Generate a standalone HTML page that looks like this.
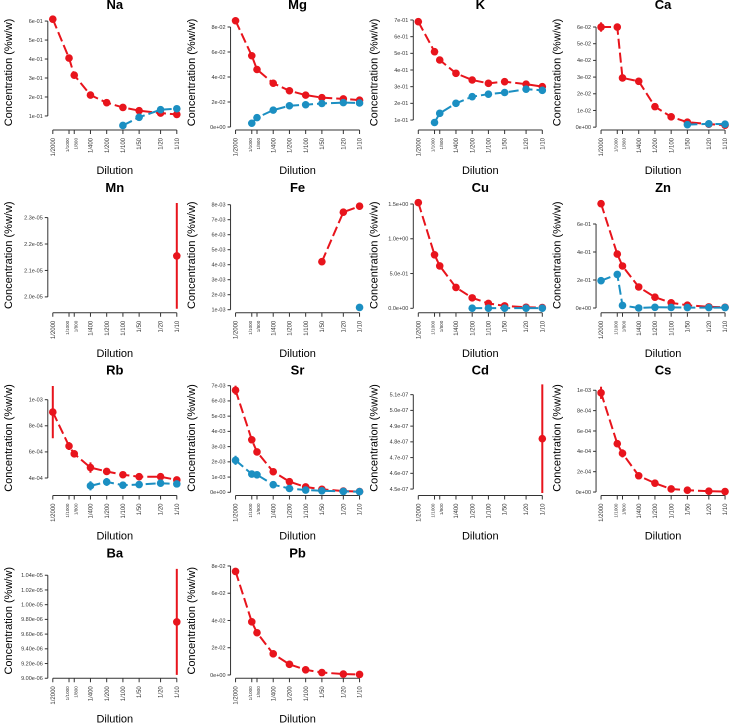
<!DOCTYPE html>
<html><head><meta charset="utf-8">
<style>
html,body{margin:0;padding:0;background:#fff;}
svg{display:block;font-family:"Liberation Sans",Arial,sans-serif;}
</style></head>
<body>
<svg id="chart" width="731" height="723" viewBox="0 0 731 723" xmlns="http://www.w3.org/2000/svg"></svg>
<script>
// ---- data ----
const dilutionLabels = ["1/2000","1/1000","1/800","1/400","1/200","1/100","1/50","1/20","1/10"];
const dilutionFactors = [2000,1000,800,400,200,100,50,20,10];
const elements = ["Na","Mg","K","Ca","Mn","Fe","Cu","Zn","Rb","Sr","Cd","Cs","Ba","Pb"];

const naRed = [0.61,0.405,0.315,0.21,0.17,0.145,0.128,0.115,0.108];
const naBlue = [null,null,null,null,null,0.05,0.093,0.133,0.138];
const mgRed = [0.085,0.057,0.046,0.035,0.029,0.0255,0.0235,0.0225,0.0215];
const mgBlue = [null,0.003,0.0075,0.0135,0.017,0.0178,0.0188,0.0195,0.0192];
const kRed = [0.69,0.51,0.46,0.38,0.34,0.32,0.33,0.315,0.30];
const kBlue = [null,0.085,0.14,0.20,0.24,0.255,0.265,0.285,0.278];
const caRed = [0.060,0.060,0.0295,0.0275,0.0123,0.0062,0.003,0.0018,0.0012];
const caRedErr = [0.0028,0,0,0,0,0,0,0,0];
const caBlue = [null,null,null,null,null,null,0.0015,0.002,0.0018];
const mnRed = [null,null,null,null,null,null,null,null,2.155e-5];
const mnRedErr = [0,0,0,0,0,0,0,0,0.2e-5];
const feRed = [null,null,null,null,null,null,0.0042,0.0075,0.0079];
const feBlue = [null,null,null,null,null,null,null,null,0.00115];
const cuRed = [1.52,0.77,0.61,0.30,0.15,0.07,0.035,0.015,0.01];
const cuBlue = [null,null,null,null,0.002,0.002,0.002,0.002,0.002];
const znRed = [0.745,0.385,0.30,0.15,0.077,0.037,0.02,0.008,0.005];
const znBlue = [0.195,0.24,0.018,0.0,0.005,0.004,0.003,0.003,0.003];
const rbRed = [9.05e-4,6.45e-4,5.85e-4,4.8e-4,4.5e-4,4.25e-4,4.1e-4,4.1e-4,3.85e-4];
const rbRedErr = [2e-4,0.3e-4,0.25e-4,0.4e-4,0.15e-4,0.2e-4,0.1e-4,0.1e-4,0.1e-4];
const rbBlue = [null,null,null,3.4e-4,3.7e-4,3.45e-4,3.5e-4,3.6e-4,3.55e-4];
const rbBlueErr = [0,0,0,0.35e-4,0.3e-4,0.1e-4,0.2e-4,0.1e-4,0.1e-4];
const srRed = [6.7e-3,3.45e-3,2.65e-3,1.35e-3,0.7e-3,0.35e-3,0.2e-3,0.08e-3,0.05e-3];
const srRedErr = [0.3e-3,0,0,0,0,0,0,0,0];
const srBlue = [2.1e-3,1.2e-3,1.15e-3,0.5e-3,0.25e-3,0.15e-3,0.1e-3,0.06e-3,0.04e-3];
const srBlueErr = [0.3e-3,0,0,0,0,0,0,0,0];
const cdRed = [null,null,null,null,null,null,null,null,4.82e-7];
const cdRedErr = [0,0,0,0,0,0,0,0,3.45e-8];
const csRed = [9.75e-4,4.75e-4,3.8e-4,1.6e-4,0.87e-4,0.3e-4,0.18e-4,0.08e-4,0.05e-4];
const csRedErr = [0.6e-4,0,0.4e-4,0,0,0,0,0,0];
const baRed = [null,null,null,null,null,null,null,null,9.766e-6];
const baRedErr = [0,0,0,0,0,0,0,0,0.72e-6];
const pbRed = [0.076,0.039,0.031,0.0155,0.0078,0.0038,0.0018,0.0007,0.0004];

const naTicks = [0.1,0.2,0.3,0.4,0.5,0.6];
const naTickLabels = ["1e-01","2e-01","3e-01","4e-01","5e-01","6e-01"];
const mgTicks = [0,0.02,0.04,0.06,0.08];
const mgTickLabels = ["0e+00","2e-02","4e-02","6e-02","8e-02"];
const kTicks = [0.1,0.2,0.3,0.4,0.5,0.6,0.7];
const kTickLabels = ["1e-01","2e-01","3e-01","4e-01","5e-01","6e-01","7e-01"];
const caTicks = [0,0.01,0.02,0.03,0.04,0.05,0.06];
const caTickLabels = ["0e+00","1e-02","2e-02","3e-02","4e-02","5e-02","6e-02"];
const mnTicks = [2.0e-5,2.1e-5,2.2e-5,2.3e-5];
const mnTickLabels = ["2.0e-05","2.1e-05","2.2e-05","2.3e-05"];
const feTicks = [1e-3,2e-3,3e-3,4e-3,5e-3,6e-3,7e-3,8e-3];
const feTickLabels = ["1e-03","2e-03","3e-03","4e-03","5e-03","6e-03","7e-03","8e-03"];
const cuTicks = [0,0.5,1.0,1.5];
const cuTickLabels = ["0.0e+00","5.0e-01","1.0e+00","1.5e+00"];
const znTicks = [0,0.2,0.4,0.6];
const znTickLabels = ["0e+00","2e-01","4e-01","6e-01"];
const rbTicks = [4e-4,6e-4,8e-4,1e-3];
const rbTickLabels = ["4e-04","6e-04","8e-04","1e-03"];
const srTicks = [0,1e-3,2e-3,3e-3,4e-3,5e-3,6e-3,7e-3];
const srTickLabels = ["0e+00","1e-03","2e-03","3e-03","4e-03","5e-03","6e-03","7e-03"];
const cdTicks = [4.5e-7,4.6e-7,4.7e-7,4.8e-7,4.9e-7,5.0e-7,5.1e-7];
const cdTickLabels = ["4.5e-07","4.6e-07","4.7e-07","4.8e-07","4.9e-07","5.0e-07","5.1e-07"];
const csTicks = [0,2e-4,4e-4,6e-4,8e-4,1e-3];
const csTickLabels = ["0e+00","2e-04","4e-04","6e-04","8e-04","1e-03"];
const baTicks = [9.0e-6,9.2e-6,9.4e-6,9.6e-6,9.8e-6,1.0e-5,1.02e-5,1.04e-5];
const baTickLabels = ["9.00e-06","9.20e-06","9.40e-06","9.60e-06","9.80e-06","1.00e-05","1.02e-05","1.04e-05"];
const pbTicks = [0,0.02,0.04,0.06,0.08];
const pbTickLabels = ["0e+00","2e-02","4e-02","6e-02","8e-02"];

const naLim=[0.026,0.632], mgLim=[-0.0024,0.0896], kLim=[0.04,0.73], caLim=[-0.0017,0.0672];
const mnLim=[1.940e-5,2.375e-5], feLim=[0.000797,0.008463], cuLim=[-0.064,1.59], znLim=[-0.034,0.7875];
const rbLim=[2.66e-4,1.147e-3], srLim=[-2.1e-4,0.00734], cdLim=[4.459e-7,5.19e-7], csLim=[-3.4e-5,1.096e-3];
const baLim=[9.0e-6,1.0563e-5], pbLim=[-0.0024,0.082];

// ---- drawing ----
const NS="http://www.w3.org/2000/svg";
const svg=document.getElementById('chart');
const RED="#e8141c", BLUE="#1b8fc2";
const PW=182.75, OFFY=-8;
function mk(tag,attrs,parent){const e=document.createElementNS(NS,tag);for(const k in attrs)e.setAttribute(k,attrs[k]);(parent||svg).appendChild(e);return e;}

function drawPanel(idx,name,red,redErr,blue,blueErr,lim,ticks,tickLabels){
  const col=idx%4,row=Math.floor(idx/4);
  const pl=col*PW, pt=OFFY+row*PW;
  const g=mk('g',{});
  
  
  const top=pt+23, bot=pt+138, left=pl+47.8, right=pl+181.8;
  const k=124/Math.log10(200);
  const xs=i=>pl+52.8+Math.log10(dilutionFactors[0]/dilutionFactors[i])*k;
  const ys=v=>top+(lim[1]-v)/(lim[1]-lim[0])*(bot-top);
  const t=mk('text',{x:(left+right)/2,y:pt+17,'text-anchor':'middle','font-size':13,'font-weight':'bold',fill:'#000'},g);
  t.textContent=name;
  
  
  const yl=mk('text',{transform:`translate(${pl+12},${(top+bot)/2}) rotate(-90)`,'text-anchor':'middle','font-size':11,fill:'#000'},g);
  yl.textContent="Concentration (%w/w)";
  
  
  const xl=mk('text',{x:(left+right)/2,y:pt+182,'text-anchor':'middle','font-size':11,fill:'#000'},g);
  xl.textContent="Dilution";
  
  
  const ya=mk('line',{x1:left,x2:left,y1:ys(ticks[0]),y2:ys(ticks[ticks.length-1]),stroke:'#333','stroke-width':1},g);
  
  
  ticks.forEach((v,i)=>{
    const y=ys(v);
    mk('line',{x1:left-3,x2:left,y1:y,y2:y,stroke:'#333','stroke-width':1},g);
    const tl=mk('text',{x:left-5,y:y+1.8,'text-anchor':'end','font-size':5.5,fill:'#333'},g);
    tl.textContent=tickLabels[i];
    
    
  });
  const xa=mk('line',{x1:xs(0),x2:xs(8),y1:bot,y2:bot,stroke:'#333','stroke-width':1},g);
  
  
  dilutionLabels.forEach((lab,i)=>{
    const x=xs(i);
    mk('line',{x1:x,x2:x,y1:bot,y2:bot+4,stroke:'#333','stroke-width':1},g);
    let dx=0,fs=6;
    if(i===1){dx=-1.6;fs=4.6;} if(i===2){dx=1.6;fs=4.6;}
    const tl=mk('text',{transform:`translate(${x+dx+fs*0.35},${pt+146}) rotate(-90)`,'text-anchor':'end','font-size':fs,fill:'#333'},g);
    tl.textContent=lab;
    
    
  });
  const cp=mk('clipPath',{id:'clip'+idx},g);
  mk('rect',{x:left,y:top-6,width:right-left+4,height:bot-top+6},cp);
  const dg=mk('g',{'clip-path':`url(#clip${idx})`},g);
  function series(vals,errs,color,sname){
    if(!vals)return;
    let pts=[];
    vals.forEach((v,i)=>{if(v!==null)pts.push([xs(i),ys(v)]);});
    if(pts.length>1){
      const pl2=mk('polyline',{points:pts.map(p=>p.join(',')).join(' '),fill:'none',stroke:color,'stroke-width':2,'stroke-dasharray':'10,4'},dg);
      
      
    }
    vals.forEach((v,i)=>{
      if(v===null)return;
      if(errs&&errs[i]){
        const eb=mk('line',{x1:xs(i),x2:xs(i),y1:ys(v-errs[i]),y2:ys(v+errs[i]),stroke:color,'stroke-width':2},dg);
        
        
      }
      const c=mk('circle',{cx:xs(i),cy:ys(v),r:3.8,fill:color},dg);
      
      
    });
  }
  series(red,redErr,RED,'red-series');
  series(blue,blueErr,BLUE,'blue-series');
}

drawPanel(0,"Na",naRed,null,naBlue,null,naLim,naTicks,naTickLabels);
drawPanel(1,"Mg",mgRed,null,mgBlue,null,mgLim,mgTicks,mgTickLabels);
drawPanel(2,"K",kRed,null,kBlue,null,kLim,kTicks,kTickLabels);
drawPanel(3,"Ca",caRed,caRedErr,caBlue,null,caLim,caTicks,caTickLabels);
drawPanel(4,"Mn",mnRed,mnRedErr,null,null,mnLim,mnTicks,mnTickLabels);
drawPanel(5,"Fe",feRed,null,feBlue,null,feLim,feTicks,feTickLabels);
drawPanel(6,"Cu",cuRed,null,cuBlue,null,cuLim,cuTicks,cuTickLabels);
drawPanel(7,"Zn",znRed,null,znBlue,null,znLim,znTicks,znTickLabels);
drawPanel(8,"Rb",rbRed,rbRedErr,rbBlue,rbBlueErr,rbLim,rbTicks,rbTickLabels);
drawPanel(9,"Sr",srRed,srRedErr,srBlue,srBlueErr,srLim,srTicks,srTickLabels);
drawPanel(10,"Cd",cdRed,cdRedErr,null,null,cdLim,cdTicks,cdTickLabels);
drawPanel(11,"Cs",csRed,csRedErr,null,null,csLim,csTicks,csTickLabels);
drawPanel(12,"Ba",baRed,baRedErr,null,null,baLim,baTicks,baTickLabels);
drawPanel(13,"Pb",pbRed,null,null,null,pbLim,pbTicks,pbTickLabels);
</script>
</body></html>
